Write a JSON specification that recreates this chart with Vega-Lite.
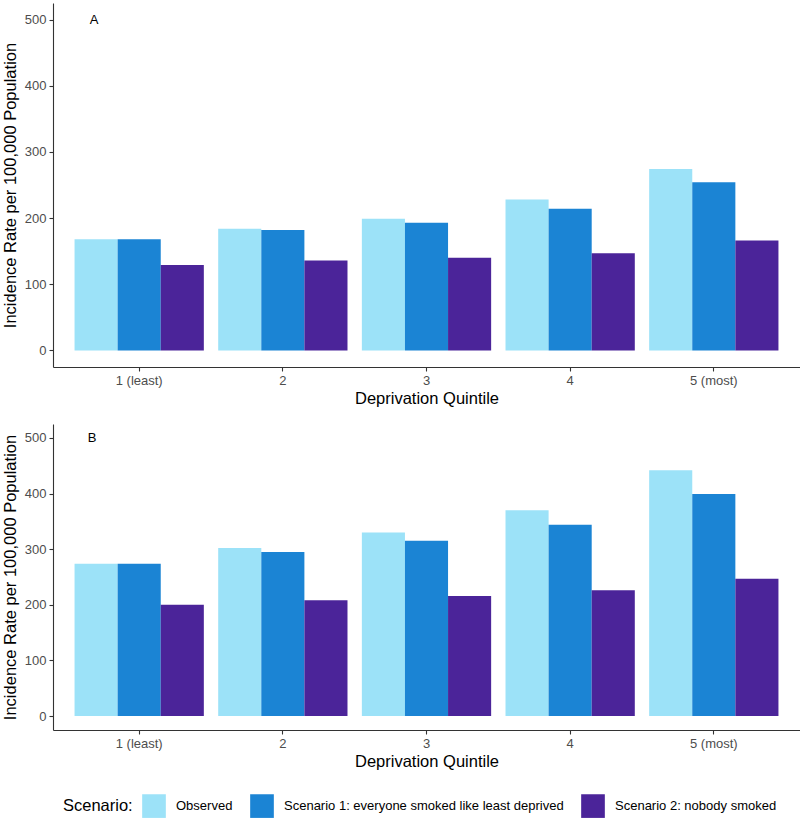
{
  "$schema": "https://vega.github.io/schema/vega-lite/v6.json",
  "padding": {"left": 2, "top": 3, "right": 0, "bottom": 0},
  "background": "white",
  "config": {
    "font": "Liberation Sans",
    "view": {"stroke": null},
    "concat": {"spacing": 17},
    "axis": {
      "grid": false,
      "domainColor": "#333333",
      "domainWidth": 1.1,
      "tickColor": "#333333",
      "tickWidth": 1.1,
      "tickSize": 4,
      "labelColor": "#4D4D4D",
      "labelFontSize": 13,
      "labelFont": "Liberation Sans",
      "titleFont": "Liberation Sans",
      "titleFontSize": 16.5,
      "titleFontWeight": "normal",
      "titleColor": "#000000"
    },
    "legend": {
      "orient": "none",
      "legendX": 10,
      "legendY": 791,
      "direction": "horizontal",
      "titleOrient": "left",
      "titleFontSize": 16.5,
      "titleFontWeight": "normal",
      "titleColor": "#000000",
      "titlePadding": 9,
      "titleBaseline": "middle",
      "labelFontSize": 13,
      "labelColor": "#000000",
      "labelLimit": 500,
      "labelOffset": 10,
      "columnPadding": 17,
      "symbolType": "square",
      "symbolSize": 560,
      "symbolStrokeWidth": 0,
      "symbolOpacity": 1
    }
  },
  "data": {
    "values": [
      {"panel": "A", "quintile": "1 (least)", "scenario": "Observed", "rate": 168},
      {"panel": "A", "quintile": "1 (least)", "scenario": "Scenario 1: everyone smoked like least deprived", "rate": 168},
      {"panel": "A", "quintile": "1 (least)", "scenario": "Scenario 2: nobody smoked", "rate": 129},
      {"panel": "A", "quintile": "2", "scenario": "Observed", "rate": 184},
      {"panel": "A", "quintile": "2", "scenario": "Scenario 1: everyone smoked like least deprived", "rate": 182},
      {"panel": "A", "quintile": "2", "scenario": "Scenario 2: nobody smoked", "rate": 136},
      {"panel": "A", "quintile": "3", "scenario": "Observed", "rate": 199},
      {"panel": "A", "quintile": "3", "scenario": "Scenario 1: everyone smoked like least deprived", "rate": 193},
      {"panel": "A", "quintile": "3", "scenario": "Scenario 2: nobody smoked", "rate": 140},
      {"panel": "A", "quintile": "4", "scenario": "Observed", "rate": 228},
      {"panel": "A", "quintile": "4", "scenario": "Scenario 1: everyone smoked like least deprived", "rate": 214},
      {"panel": "A", "quintile": "4", "scenario": "Scenario 2: nobody smoked", "rate": 147},
      {"panel": "A", "quintile": "5 (most)", "scenario": "Observed", "rate": 274},
      {"panel": "A", "quintile": "5 (most)", "scenario": "Scenario 1: everyone smoked like least deprived", "rate": 254},
      {"panel": "A", "quintile": "5 (most)", "scenario": "Scenario 2: nobody smoked", "rate": 166},
      {"panel": "B", "quintile": "1 (least)", "scenario": "Observed", "rate": 274},
      {"panel": "B", "quintile": "1 (least)", "scenario": "Scenario 1: everyone smoked like least deprived", "rate": 274},
      {"panel": "B", "quintile": "1 (least)", "scenario": "Scenario 2: nobody smoked", "rate": 200},
      {"panel": "B", "quintile": "2", "scenario": "Observed", "rate": 302},
      {"panel": "B", "quintile": "2", "scenario": "Scenario 1: everyone smoked like least deprived", "rate": 295},
      {"panel": "B", "quintile": "2", "scenario": "Scenario 2: nobody smoked", "rate": 208},
      {"panel": "B", "quintile": "3", "scenario": "Observed", "rate": 330},
      {"panel": "B", "quintile": "3", "scenario": "Scenario 1: everyone smoked like least deprived", "rate": 315},
      {"panel": "B", "quintile": "3", "scenario": "Scenario 2: nobody smoked", "rate": 216},
      {"panel": "B", "quintile": "4", "scenario": "Observed", "rate": 370},
      {"panel": "B", "quintile": "4", "scenario": "Scenario 1: everyone smoked like least deprived", "rate": 344},
      {"panel": "B", "quintile": "4", "scenario": "Scenario 2: nobody smoked", "rate": 226},
      {"panel": "B", "quintile": "5 (most)", "scenario": "Observed", "rate": 442},
      {"panel": "B", "quintile": "5 (most)", "scenario": "Scenario 1: everyone smoked like least deprived", "rate": 399},
      {"panel": "B", "quintile": "5 (most)", "scenario": "Scenario 2: nobody smoked", "rate": 247}
    ]
  },
  "vconcat": [
    {
      "width": 747,
      "height": 364,
      "layer": [
        {
          "transform": [{"filter": "datum.panel === 'A'"}],
          "mark": {"type": "bar"},
          "encoding": {
            "x": {"field": "quintile", "type": "nominal", "sort": null,
              "scale": {"paddingInner": 0.1, "paddingOuter": 0.15},
              "axis": {"labelAngle": 0, "labelPadding": 3, "titlePadding": 3, "title": "Deprivation Quintile"}},
            "xOffset": {"field": "scenario", "type": "nominal", "sort": null, "scale": {"paddingInner": 0, "paddingOuter": 0}},
            "y": {"field": "rate", "type": "quantitative",
              "scale": {"domain": [-25, 525], "nice": false, "zero": false},
              "axis": {"values": [0, 100, 200, 300, 400, 500], "title": "Incidence Rate per 100,000 Population", "labelPadding": 3, "titlePadding": 6}},
            "color": {"field": "scenario", "type": "nominal", "title": "Scenario:",
              "scale": {"domain": ["Observed", "Scenario 1: everyone smoked like least deprived", "Scenario 2: nobody smoked"],
                "range": ["#9CE2F8", "#1B84D4", "#4B2499"]}}
          }
        },
        {
          "data": {"values": [{"label": "A", "quintile": "1 (least)", "rate": 500}]},
          "mark": {"type": "text", "fontSize": 13, "color": "#000000", "dx": -45, "align": "center", "baseline": "middle"},
          "encoding": {
            "x": {"field": "quintile", "type": "nominal"},
            "y": {"field": "rate", "type": "quantitative"},
            "text": {"field": "label"}
          }
        }
      ]
    },
    {
      "width": 747,
      "height": 306,
      "layer": [
        {
          "transform": [{"filter": "datum.panel === 'B'"}],
          "mark": {"type": "bar"},
          "encoding": {
            "x": {"field": "quintile", "type": "nominal", "sort": null,
              "scale": {"paddingInner": 0.1, "paddingOuter": 0.15},
              "axis": {"labelAngle": 0, "labelPadding": 3, "titlePadding": 3, "title": "Deprivation Quintile"}},
            "xOffset": {"field": "scenario", "type": "nominal", "sort": null, "scale": {"paddingInner": 0, "paddingOuter": 0}},
            "y": {"field": "rate", "type": "quantitative",
              "scale": {"domain": [-25, 525], "nice": false, "zero": false},
              "axis": {"values": [0, 100, 200, 300, 400, 500], "title": "Incidence Rate per 100,000 Population", "labelPadding": 3, "titlePadding": 6}},
            "color": {"field": "scenario", "type": "nominal", "title": "Scenario:",
              "scale": {"domain": ["Observed", "Scenario 1: everyone smoked like least deprived", "Scenario 2: nobody smoked"],
                "range": ["#9CE2F8", "#1B84D4", "#4B2499"]}}
          }
        },
        {
          "data": {"values": [{"label": "B", "quintile": "1 (least)", "rate": 500}]},
          "mark": {"type": "text", "fontSize": 13, "color": "#000000", "dx": -47, "align": "center", "baseline": "middle"},
          "encoding": {
            "x": {"field": "quintile", "type": "nominal"},
            "y": {"field": "rate", "type": "quantitative"},
            "text": {"field": "label"}
          }
        }
      ]
    }
  ]
}
